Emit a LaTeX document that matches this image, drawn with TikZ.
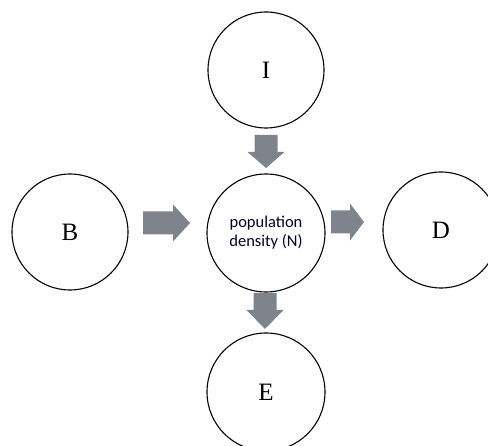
\documentclass[tikz,border=0pt]{standalone}
\usepackage{fontspec}
\setmainfont{Liberation Serif}
\newfontfamily\labelfont{Carlito}
\definecolor{arrowgray}{RGB}{127,131,139}
\newcommand{\blockarr}[5]{% x, y, angle, total length, body length
  \fill[arrowgray, shift={(#1,#2)}, rotate=#3]
    (0,-11.5) -- (#5,-11.5) -- (#5,-18.5) -- (#4,0) -- (#5,18.5) -- (#5,11.5) -- (0,11.5) -- cycle;}
\begin{document}
\begin{tikzpicture}[x=1pt,y=1pt,
  state/.style={circle, draw=black, line width=1.1pt, inner sep=0pt, font=\fontsize{25}{28}\selectfont},
  core/.style={circle, draw=black, line width=1.1pt, inner sep=0pt, align=center,
    font=\labelfont\fontsize{16.5}{19}\selectfont, text=black!85!blue}]
\useasboundingbox (0,0) rectangle (488,-446);
\begin{scope}
\clip (0,0) rectangle (488,-446);
\node[state, minimum size=116pt] (I) at (266,-70) {I};
\node[state, minimum size=116pt] (B) at (70,-232) {B};
\node[core, minimum size=118pt] (N) at (266,-233) {population\\density (N)};
\node[state, minimum size=116pt] (D) at (441,-230) {D};
\node[state, minimum size=118pt] (E) at (266,-392) {E};
\end{scope}
% block arrows
\blockarr{266}{-135}{-90}{33}{17}
\blockarr{143}{-223}{0}{47}{30}
\blockarr{331}{-222}{0}{33}{19}
\blockarr{265}{-293}{-90}{36}{17}
\end{tikzpicture}
\end{document}
